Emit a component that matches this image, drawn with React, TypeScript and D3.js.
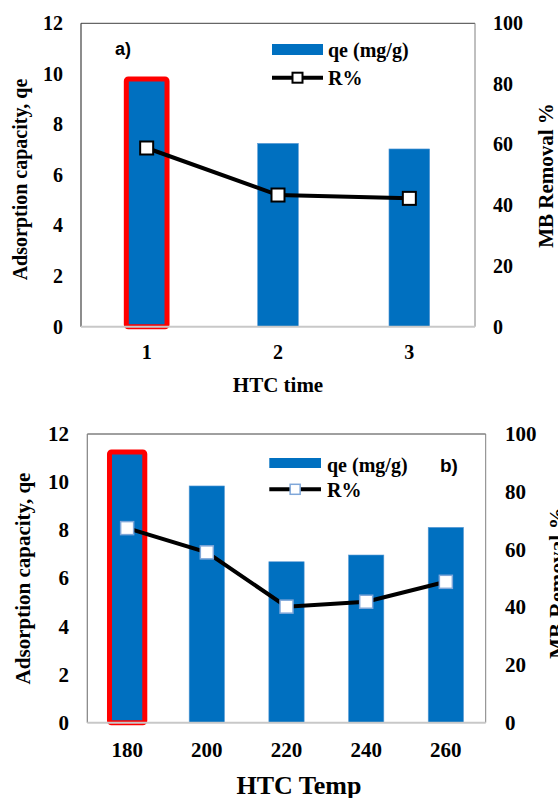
import React from "react";
import * as d3 from "d3";

// ---- data ----
const timeCategories = ["1", "2", "3"];
const timeQe = [9.8, 7.25, 7.03];
const timeR = [58.9, 43.4, 42.3];

const tempCategories = ["180", "200", "220", "240", "260"];
const tempQe = [11.25, 9.84, 6.69, 6.97, 8.12];
const tempR = [67.4, 59.0, 40.2, 41.9, 48.8];

const leftTicks = [0, 2, 4, 6, 8, 10, 12];
const rightTicks = [0, 20, 40, 60, 80, 100];

const BLUE = "#0070C0";
const RED = "#FF0000";
const SERIF = "'Liberation Serif', 'Times New Roman', serif";
const SANS = "'Liberation Sans', Arial, sans-serif";

type PanelProps = {
  cats: string[];
  qe: number[];
  r: number[];
  left: number;
  right: number;
  top: number;
  bottom: number;
  barRatio: number;
  tickFs: number;
  leftTickX: number;
  rightTickX: number;
  xTickY: number;
  xTitle: string;
  xTitleX: number;
  xTitleY: number;
  xTitleFs: number;
  yTitleX: number;
  yTitleY: number;
  yTitleFs: number;
  y2TitleX: number;
  y2TitleY: number;
  y2TitleFs: number;
  markerStroke: string;
  markerStrokeW: number;
  markerSize: number;
  leftAxisColor: string;
  legend: { x0: number; x1: number; rectY: number; rectH: number; textX: number; t1Y: number; lineY: number; t2Y: number; fs: number };
  tag: { text: string; x: number; y: number; fs: number };
};

function Panel(p: PanelProps) {
  const x = d3
    .scaleBand<string>()
    .domain(p.cats)
    .range([p.left, p.right])
    .paddingInner(1 - p.barRatio)
    .paddingOuter((1 - p.barRatio) / 2);
  const yL = d3.scaleLinear().domain([0, 12]).range([p.bottom, p.top]);
  const yR = d3.scaleLinear().domain([0, 100]).range([p.bottom, p.top]);
  const line = d3
    .line<number>()
    .x((_, i) => (x(p.cats[i]) as number) + x.bandwidth() / 2)
    .y((d) => yR(d));
  const bw = x.bandwidth();
  const ms = p.markerSize;
  const lg = p.legend;
  return (
    <g>
      {/* bars */}
      {p.qe.map((v, i) => (
        <rect
          key={"b" + i}
          x={x(p.cats[i])}
          y={yL(v)}
          width={bw}
          height={yL(0) - yL(v)}
          fill={BLUE}
          stroke="#5B9BD5"
          strokeWidth={0.6}
        />
      ))}
      {/* red highlight on first bar */}
      <rect
        x={x(p.cats[0])}
        y={yL(p.qe[0])}
        width={bw}
        height={yL(0) - yL(p.qe[0])}
        fill="none"
        stroke={RED}
        strokeWidth={5}
        rx={2}
      />
      {/* frame */}
      <line x1={p.left} x2={p.right} y1={p.top} y2={p.top} stroke="#404040" strokeWidth={1} />
      <line x1={p.right} x2={p.right} y1={p.top} y2={p.bottom} stroke="#808080" strokeWidth={1} />
      <line x1={p.left} x2={p.left} y1={p.top} y2={p.bottom} stroke={p.leftAxisColor} strokeWidth={1.2} />
      <line x1={p.left} x2={p.right} y1={p.bottom} y2={p.bottom} stroke="#c8c8c8" strokeWidth={2} />
      {/* R% line */}
      <path d={line(p.r) || ""} fill="none" stroke="#000" strokeWidth={4} />
      {p.r.map((v, i) => (
        <rect
          key={"m" + i}
          x={(x(p.cats[i]) as number) + bw / 2 - ms / 2}
          y={yR(v) - ms / 2}
          width={ms}
          height={ms}
          fill="#fff"
          stroke={p.markerStroke}
          strokeWidth={p.markerStrokeW}
        />
      ))}
      {/* left ticks */}
      {leftTicks.map((t) => (
        <text key={"l" + t} x={p.leftTickX} y={yL(t) + p.tickFs * 0.34} textAnchor="end" fontFamily={SERIF} fontWeight="bold" fontSize={p.tickFs}>
          {t}
        </text>
      ))}
      {rightTicks.map((t) => (
        <text key={"r" + t} x={p.rightTickX} y={yR(t) + p.tickFs * 0.34} textAnchor="start" fontFamily={SERIF} fontWeight="bold" fontSize={p.tickFs}>
          {t}
        </text>
      ))}
      {p.cats.map((c) => (
        <text key={"x" + c} x={(x(c) as number) + bw / 2} y={p.xTickY} textAnchor="middle" fontFamily={SERIF} fontWeight="bold" fontSize={p.tickFs}>
          {c}
        </text>
      ))}
      {/* axis titles */}
      <text x={p.xTitleX} y={p.xTitleY} textAnchor="middle" fontFamily={SERIF} fontWeight="bold" fontSize={p.xTitleFs}>
        {p.xTitle}
      </text>
      <text transform={`translate(${p.yTitleX},${p.yTitleY}) rotate(-90)`} textAnchor="middle" fontFamily={SERIF} fontWeight="bold" fontSize={p.yTitleFs}>
        Adsorption capacity, qe
      </text>
      <text transform={`translate(${p.y2TitleX},${p.y2TitleY}) rotate(-90)`} textAnchor="middle" fontFamily={SERIF} fontWeight="bold" fontSize={p.y2TitleFs}>
        MB Removal %
      </text>
      {/* legend */}
      <rect x={lg.x0} y={lg.rectY} width={lg.x1 - lg.x0} height={lg.rectH} fill={BLUE} />
      <text x={lg.textX} y={lg.t1Y} fontFamily={SERIF} fontWeight="bold" fontSize={lg.fs}>
        qe (mg/g)
      </text>
      <line x1={lg.x0} x2={lg.x1} y1={lg.lineY} y2={lg.lineY} stroke="#000" strokeWidth={4} />
      <rect
        x={(lg.x0 + lg.x1) / 2 - 5}
        y={lg.lineY - 5}
        width={10}
        height={10}
        fill="#fff"
        stroke={p.markerStroke}
        strokeWidth={p.markerStrokeW}
      />
      <text x={lg.textX} y={lg.t2Y} fontFamily={SERIF} fontWeight="bold" fontSize={lg.fs}>
        R%
      </text>
      <text x={p.tag.x} y={p.tag.y} fontFamily={SANS} fontWeight="bold" fontSize={p.tag.fs}>
        {p.tag.text}
      </text>
    </g>
  );
}

export default function App() {
  return (
    <svg
      width={558}
      height={798}
      viewBox="0 0 558 798"
      style={{ position: "absolute", left: 0, top: 0, background: "#fff" }}
    >
      <rect x={0} y={0} width={558} height={798} fill="#fff" />
      <Panel
        cats={timeCategories}
        qe={timeQe}
        r={timeR}
        left={81}
        right={475}
        top={23.3}
        bottom={326.7}
        barRatio={0.31}
        tickFs={20}
        leftTickX={63}
        rightTickX={493}
        xTickY={359}
        xTitle="HTC time"
        xTitleX={278}
        xTitleY={392}
        xTitleFs={21}
        yTitleX={27}
        yTitleY={179.5}
        yTitleFs={20}
        y2TitleX={553}
        y2TitleY={175.5}
        y2TitleFs={21}
        markerStroke="#000"
        markerStrokeW={2}
        markerSize={13}
        leftAxisColor="#404040"
        legend={{ x0: 272, x1: 323, rectY: 44, rectH: 11, textX: 328, t1Y: 56.5, lineY: 77.7, t2Y: 85, fs: 20 }}
        tag={{ text: "a)", x: 115, y: 55, fs: 18 }}
      />
      <Panel
        cats={tempCategories}
        qe={tempQe}
        r={tempR}
        left={87.3}
        right={485.7}
        top={434}
        bottom={722.7}
        barRatio={0.443}
        tickFs={21}
        leftTickX={69}
        rightTickX={505}
        xTickY={757}
        xTitle="HTC Temp"
        xTitleX={299}
        xTitleY={794}
        xTitleFs={26}
        yTitleX={30}
        yTitleY={578.5}
        yTitleFs={21}
        y2TitleX={563.6}
        y2TitleY={583}
        y2TitleFs={22}
        markerStroke="#7fa7d9"
        markerStrokeW={1.5}
        markerSize={13}
        leftAxisColor="#808080"
        legend={{ x0: 269.3, x1: 321, rectY: 458, rectH: 10, textX: 327, t1Y: 471.7, lineY: 489.3, t2Y: 497, fs: 20 }}
        tag={{ text: "b)", x: 440, y: 472, fs: 19 }}
      />
    </svg>
  );
}
